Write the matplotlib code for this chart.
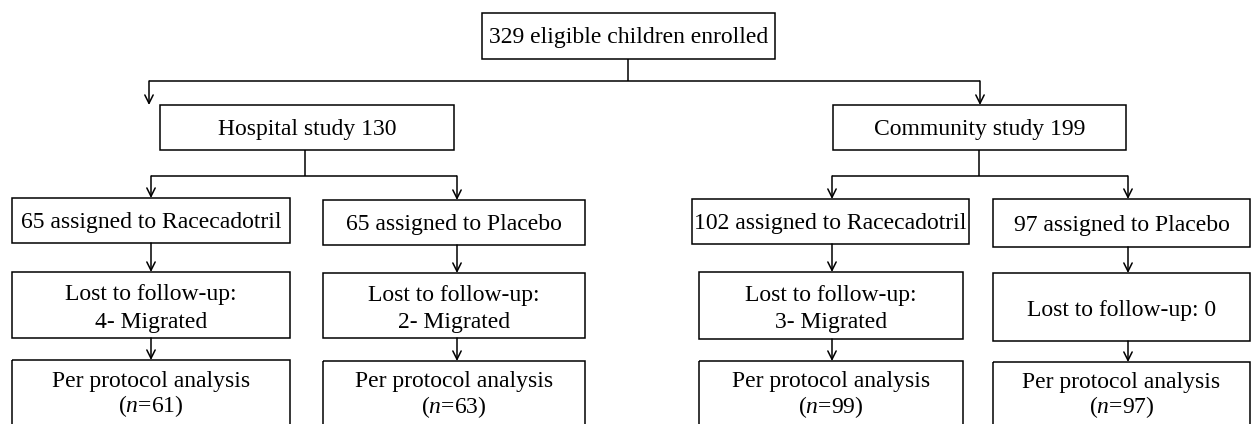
import matplotlib.pyplot as plt
from matplotlib.patches import Rectangle

plt.rcParams['font.family'] = ['Liberation Serif', 'DejaVu Serif']
plt.rcParams['mathtext.fontset'] = 'custom'
plt.rcParams['mathtext.rm'] = 'Liberation Serif'
plt.rcParams['mathtext.it'] = 'Liberation Serif:italic'

# Box texts
top_label = "329 eligible children enrolled"
study_labels = ["Hospital study 130", "Community study 199"]
arm_labels = ["65 assigned to Racecadotril", "65 assigned to Placebo",
              "102 assigned to Racecadotril", "97 assigned to Placebo"]
lost_labels = ["Lost to follow-up:\n4- Migrated", "Lost to follow-up:\n2- Migrated",
               "Lost to follow-up:\n3- Migrated", "Lost to follow-up: 0"]
pp_n = [61, 63, 99, 97]

W, H = 1254, 424
fig = plt.figure(figsize=(W / 100, H / 100), dpi=100)
ax = fig.add_axes([0, 0, 1, 1])
ax.set_xlim(0, W)
ax.set_ylim(H, 0)
ax.axis('off')

LW = 1.1
FS = 17


def box(x0, x1, y0, y1, text, dy=2, ls=1.4):
    ax.add_patch(Rectangle((x0, y0), x1 - x0, y1 - y0, fill=False,
                           edgecolor='black', linewidth=LW))
    ax.text((x0 + x1) / 2, (y0 + y1) / 2 + dy, text, ha='center', va='center',
            fontsize=FS, linespacing=ls)


def arrow(x, y0, y1):
    ax.annotate('', xy=(x, y1), xytext=(x, y0),
                arrowprops=dict(arrowstyle='->', color='black', lw=LW,
                                shrinkA=0, shrinkB=0, mutation_scale=15))


def line(xs, ys):
    ax.plot(xs, ys, color='black', lw=LW, solid_capstyle='butt')


# Top
box(482, 775, 13, 59, top_label)
line([628, 628], [59, 81])
line([149, 980], [81, 81])
arrow(149, 81, 105)
arrow(980, 81, 105)

# Studies
study_x = [(160, 454), (833, 1126)]
for (x0, x1), lab in zip(study_x, study_labels):
    box(x0, x1, 105, 150, lab)

# Branch lines from studies to arms
arm_arrow_x = [151, 457, 832, 1128]
line([305, 305], [150, 176])
line([151, 457], [176, 176])
line([979, 979], [150, 176])
line([832, 1128], [176, 176])

row1_x = [(12, 290), (323, 585), (692, 969), (993, 1250)]
row1_y = [(198, 243), (200, 245), (199, 244), (199, 247)]
row2_x = [(12, 290), (323, 585), (699, 963), (993, 1250)]
row2_y = [(272, 338), (273, 338), (272, 339), (273, 341)]
row3_top = [360, 361, 361, 362]

for i in range(4):
    ax_ = arm_arrow_x[i]
    arrow(ax_, 176, row1_y[i][0])
    box(row1_x[i][0], row1_x[i][1], row1_y[i][0], row1_y[i][1], arm_labels[i])
    arrow(ax_, row1_y[i][1], row2_y[i][0])
    box(row2_x[i][0], row2_x[i][1], row2_y[i][0], row2_y[i][1], lost_labels[i],
        dy=3.5)
    arrow(ax_, row2_y[i][1], row3_top[i])
    box(row2_x[i][0], row2_x[i][1], row3_top[i], 430,
        "Per protocol analysis\n($\\it{n}$=%d)" % pp_n[i], dy=0, ls=1.1)

fig.savefig("out.png", dpi=100)
